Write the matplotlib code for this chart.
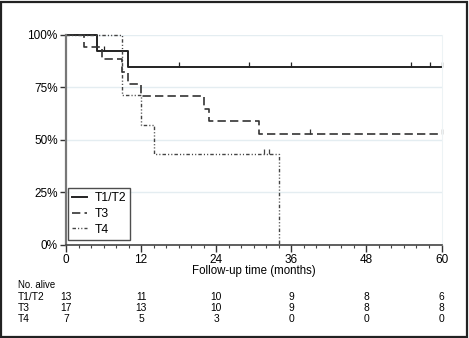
import matplotlib
matplotlib.use("Agg")
from matplotlib import pyplot as plt
from matplotlib import transforms
from matplotlib.patches import Rectangle

plt.rcParams['font.family'] = ['Liberation Sans', 'DejaVu Sans']

# Kaplan-Meier steps (months, fraction surviving)
t12_time = [0, 4.9, 9.9, 60]
t12_surv = [1.0, 0.923, 0.846, 0.846]
t12_cens = [6, 18, 29.2, 36, 55.2, 58.1, 60]

t3_time = [0, 2.9, 5.7, 8.9, 9.9, 12.0, 22.0, 22.9, 30.9, 60]
t3_surv = [1.0, 0.941, 0.882, 0.824, 0.765, 0.706, 0.647, 0.588, 0.529, 0.529]
t3_cens = [39, 60]

t4_time = [0, 8.9, 12.0, 14.0, 34.1]
t4_surv = [1.0, 0.714, 0.571, 0.429, 0.0]
t4_cens = [31.6, 32.4]

groups = ['T1/T2', 'T3', 'T4']
risk_times = [0, 12, 24, 36, 48, 60]
risk_t12 = [13, 11, 10, 9, 8, 6]
risk_t3 = [17, 13, 10, 9, 8, 8]
risk_t4 = [7, 5, 3, 0, 0, 0]

y_ticks = [0, 0.25, 0.5, 0.75, 1.0]
y_labels = ['0%', '25%', '50%', '75%', '100%']


def surv_at(t, times, surv):
    s = surv[0]
    for ti, si in zip(times, surv):
        if ti <= t:
            s = si
    return s


fig = plt.figure(figsize=(4.69, 3.38), dpi=100)
ax = fig.add_axes([66 / 469, 1 - 244.5 / 338, (441.5 - 66) / 469, (244.5 - 34.7) / 338])

styles = [
    dict(color='#222222', lw=1.4, ls='-'),
    dict(color='#333333', lw=1.2, ls=(0, (5, 2.5))),
    dict(color='#444444', lw=1.0, ls=(0, (2.5, 1.5, 0.8, 1.5, 0.8, 1.5))),
]
data = [(t12_time, t12_surv, t12_cens), (t3_time, t3_surv, t3_cens), (t4_time, t4_surv, t4_cens)]

for name, (tt, ss, cc), st in zip(groups, data, styles):
    ax.step(tt, ss, where='post', label=name, clip_on=False, **st)
    cy = [surv_at(c, tt, ss) for c in cc]
    ax.plot(cc, cy, ls='none', marker=2, ms=3.5, mew=0.9, color=st['color'], clip_on=False)

ax.set_xlim(0, 60)
ax.set_ylim(0, 1.0)
ax.set_xticks(risk_times)
ax.set_xticks(range(0, 61, 2), minor=True)
ax.set_yticks(y_ticks)
ax.set_yticklabels(y_labels)
ax.yaxis.grid(True, color='#e4edf1', lw=1.0)
ax.set_axisbelow(True)

ax.spines['top'].set_visible(False)
ax.spines['right'].set_color('#edf3f5')
ax.spines['left'].set_color('#777777')
ax.spines['left'].set_linewidth(1.6)
ax.spines['bottom'].set_color('#444444')
ax.spines['bottom'].set_linewidth(1.2)

ax.tick_params(axis='both', which='major', labelsize=8.5, colors='#333333', labelcolor='black')
ax.tick_params(axis='x', which='major', length=5, width=1, pad=2)
ax.tick_params(axis='x', which='minor', length=2.5, width=0.8, colors='#444444')
ax.tick_params(axis='y', which='major', length=4, width=1, pad=2)
ax.set_xlabel('Follow-up time (months)', fontsize=8.3, labelpad=-1)

leg = ax.legend(loc='lower left', bbox_to_anchor=(68 / 469, 1 - 240 / 338),
                bbox_transform=fig.transFigure, borderaxespad=0, fontsize=8.8,
                handlelength=1.2, handletextpad=0.6, labelspacing=0.3,
                borderpad=0.35, fancybox=False, frameon=True)
leg.get_frame().set_edgecolor('#222222')
leg.get_frame().set_linewidth(1.0)

# number-at-risk table under the axis
trans = transforms.blended_transform_factory(ax.transData, fig.transFigure)
fig.text(18 / 469, 1 - 284.5 / 338, 'No. alive', fontsize=6.9, va='center')
rows_y = [297.5, 308, 318.5]
for name, counts, yp in zip(groups, [risk_t12, risk_t3, risk_t4], rows_y):
    fig.text(18 / 469, 1 - yp / 338, name, fontsize=7.4, va='center')
    for t, n in zip(risk_times, counts):
        fig.text(t, 1 - yp / 338, str(n), fontsize=7.4, va='center', ha='center', transform=trans)

# frame around the whole picture
fig.patches.append(Rectangle((0.002, 0.004), 0.993, 0.99, transform=fig.transFigure,
                             fill=False, edgecolor='#222222', lw=1.6))

fig.savefig('out.png', dpi=100)
